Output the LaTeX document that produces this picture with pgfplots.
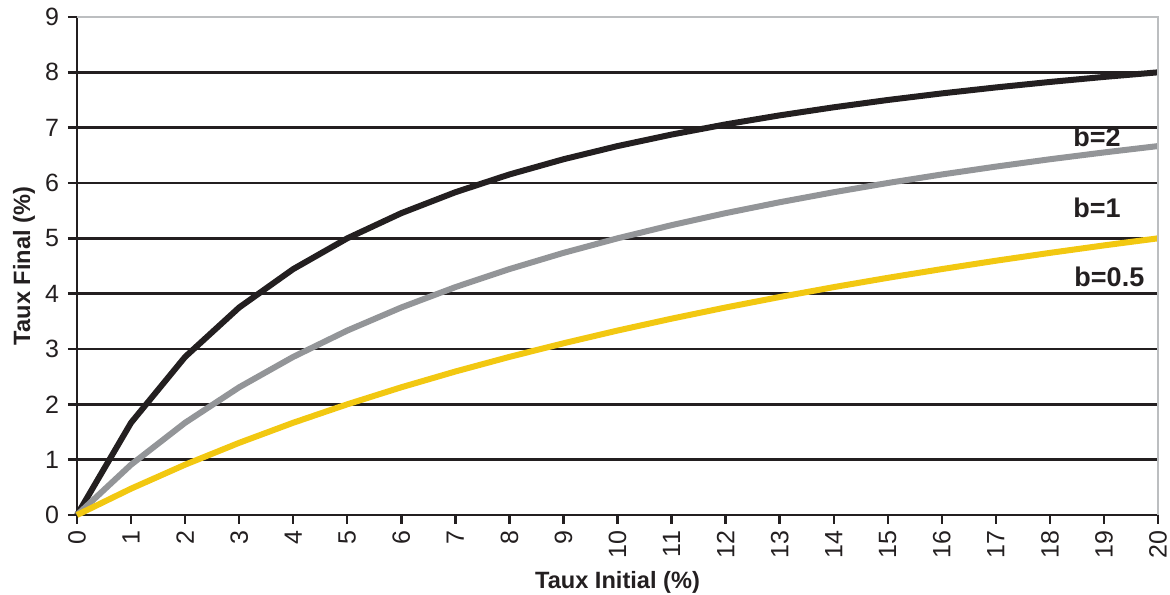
\documentclass[border=0pt]{standalone}
\usepackage{pgfplots}
\pgfplotsset{compat=1.18}
\usepackage{fontspec}
\setmainfont{Liberation Sans}
\definecolor{cblack}{HTML}{231F20}
\definecolor{cgray}{HTML}{939598}
\definecolor{cyellow}{HTML}{F2C811}
\definecolor{cframe}{HTML}{BCBEC0}
\begin{document}
\begin{tikzpicture}
\begin{axis}[
  scale only axis,
  width=540.5pt, height=249pt,
  xmin=0, xmax=20, ymin=0, ymax=9,
  xtick={0,1,...,20}, ytick={0,1,...,9},
  axis x line*=bottom, axis y line*=left,
  axis line style={cblack, line width=1.3pt, -},
  ymajorgrids, grid style={cblack, line width=1.2pt},
  tick style={cblack, line width=1.2pt},
  major tick length=4.5pt,
  tick align=outside,
  /pgf/number format/assume math mode=true,
  ticklabel style={font=\fontsize{12.5}{14}\selectfont, text=cblack},
  xticklabel style={rotate=90, anchor=east},
  yticklabel style={xshift=-1pt},
  xlabel={\textbf{Taux Initial (\%)}},
  ylabel={\textbf{Taux Final (\%)}},
  label style={font=\fontsize{11.8}{13}\selectfont, text=cblack},
  xlabel style={at={(axis description cs:0.5,0)}, anchor=center, yshift=-33.5pt},
  ylabel style={at={(axis description cs:0,0.5)}, anchor=center, rotate=0, yshift=26.5pt},
  clip=false,
]
\addplot[cblack, line width=3pt] coordinates {(0,0) (1,1.667) (2,2.857) (3,3.75) (4,4.444) (5,5) (6,5.455) (7,5.833) (8,6.154) (9,6.429) (10,6.667) (11,6.875) (12,7.059) (13,7.222) (14,7.368) (15,7.5) (16,7.619) (17,7.727) (18,7.826) (19,7.917) (20,8)};
\addplot[cgray, line width=3pt] coordinates {(0,0) (1,0.909) (2,1.667) (3,2.308) (4,2.857) (5,3.333) (6,3.75) (7,4.118) (8,4.444) (9,4.737) (10,5) (11,5.238) (12,5.455) (13,5.652) (14,5.833) (15,6) (16,6.154) (17,6.296) (18,6.429) (19,6.552) (20,6.667)};
\addplot[cyellow, line width=3pt] coordinates {(0,0) (1,0.476) (2,0.909) (3,1.304) (4,1.667) (5,2) (6,2.308) (7,2.593) (8,2.857) (9,3.103) (10,3.333) (11,3.548) (12,3.75) (13,3.939) (14,4.118) (15,4.286) (16,4.444) (17,4.595) (18,4.737) (19,4.872) (20,5)};
\draw[cframe, line width=0.9pt] (rel axis cs:0,1) -- (rel axis cs:1,1) -- (rel axis cs:1,0);
\node[font=\fontsize{13.5}{15}\selectfont\bfseries, text=cblack] at (axis cs:18.87,6.83) {b=2};
\node[font=\fontsize{13.5}{15}\selectfont\bfseries, text=cblack] at (axis cs:18.87,5.55) {b=1};
\node[font=\fontsize{13.5}{15}\selectfont\bfseries, text=cblack] at (axis cs:19.1,4.30) {b=0.5};
\end{axis}
\pgfresetboundingbox
\path[use as bounding box] ([shift={(-38.5pt,-40pt)}]current axis.south west) rectangle ([shift={(6pt,8.5pt)}]current axis.north east);
\end{tikzpicture}
\end{document}
